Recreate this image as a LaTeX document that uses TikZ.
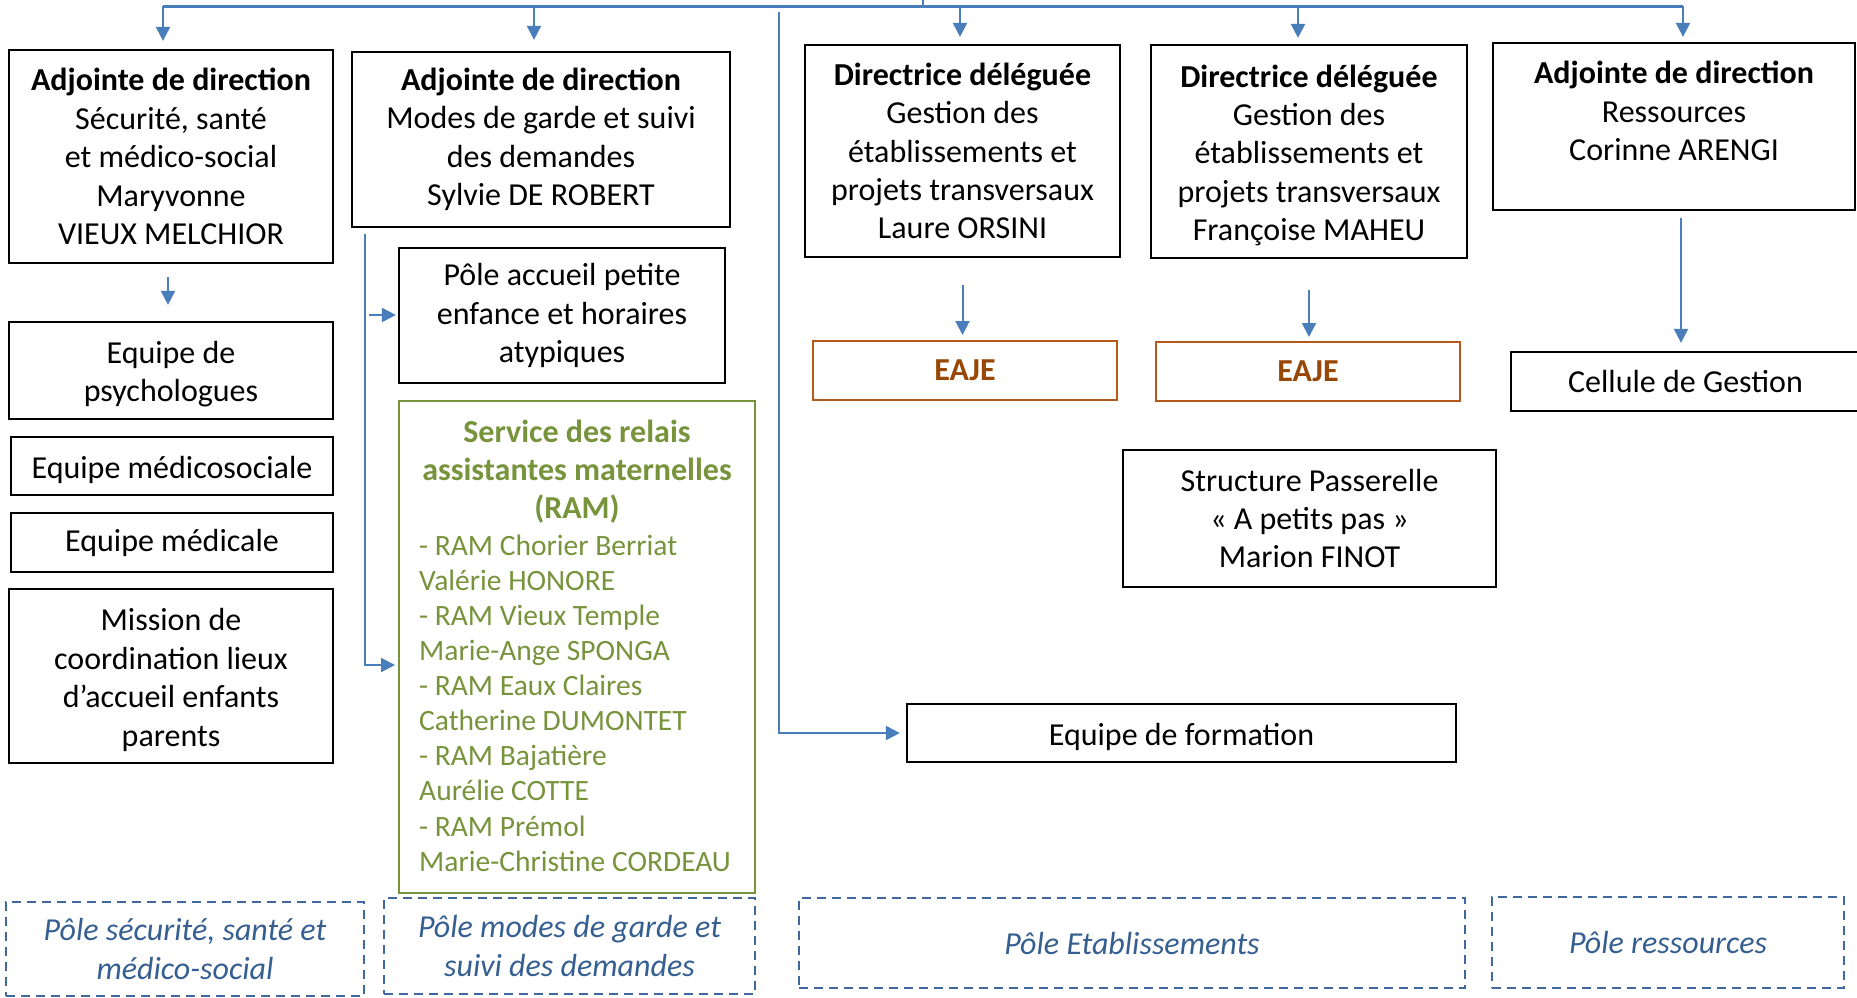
\documentclass[tikz,border=0pt]{standalone}
\usepackage{fontspec}
\setmainfont{Carlito}
\usetikzlibrary{arrows.meta}
\definecolor{arrblue}{HTML}{4A7EBB}
\definecolor{dashblue}{HTML}{41689E}
\definecolor{poleblue}{HTML}{365F91}
\definecolor{ramgreen}{HTML}{77933C}
\definecolor{eajebrown}{HTML}{984806}
\definecolor{eajeline}{HTML}{B35A1A}
\newcommand\mfs{\fontsize{32}{38.4}\selectfont}
\newcommand\lowr{\rule{0pt}{30pt}}
\begin{document}
\begin{tikzpicture}[x=1pt,y=-1pt,
 box/.style={draw=black,line width=2.2pt,align=center,inner sep=0pt,font=\mfs},
 eaje/.style={draw=eajeline,line width=2pt,align=center,inner sep=0pt,font=\mfs\bfseries,text=eajebrown},
 pole/.style={draw=dashblue,line width=2pt,dash pattern=on 9pt off 6pt,align=center,inner sep=0pt,font=\mfs\itshape,text=poleblue},
 rambox/.style={draw=ramgreen,line width=2pt,inner sep=0pt},
 ramtitle/.style={align=center,inner sep=0pt,text=ramgreen,font=\fontsize{32}{38}\selectfont\bfseries},
 ramlist/.style={align=left,inner sep=0pt,text=ramgreen,font=\fontsize{29.5}{35.1}\selectfont},
 conn/.style={draw=arrblue,line width=2pt},
 arr/.style={conn,-{Triangle[width=14pt,length=14pt]}},
]
\useasboundingbox (0,0) rectangle (1857,997);

% top row
\node[box,minimum width=324pt,minimum height=213pt] (b1) at (171,156.5)
 {\textbf{Adjointe de direction}\\Sécurité, santé\\et médico-social\\Maryvonne\\VIEUX MELCHIOR};
\node[box,minimum width=378pt,minimum height=175pt] (b2) at (541,139.5)
 {\textbf{Adjointe de direction}\\Modes de garde et suivi\\des demandes\\Sylvie DE ROBERT};
\node[box,minimum width=315pt,minimum height=212pt] (b3) at (962.5,151)
 {\textbf{Directrice déléguée}\\Gestion des\\établissements et\\projets transversaux\\Laure ORSINI};
\node[box,minimum width=316pt,minimum height=213pt] (b4) at (1309,151.5)
 {\lowr\textbf{Directrice déléguée}\\Gestion des\\établissements et\\projets transversaux\\Françoise MAHEU};
\node[box,minimum width=362pt,minimum height=167pt] (b5) at (1674,126.5)
 {\textbf{Adjointe de direction}\\Ressources\\Corinne ARENGI\rule[-31pt]{0pt}{31pt}};

% column 1
\node[box,minimum width=324pt,minimum height=97pt] (psych) at (171,370.5) {\lowr Equipe de\\psychologues};
\node[box,minimum width=322pt,minimum height=58pt] (medsoc) at (172,466) {\lowr Equipe médicosociale};
\node[box,minimum width=322pt,minimum height=59pt] (medic) at (172,542.5) {Equipe médicale};
\node[box,minimum width=324pt,minimum height=174pt] (mission) at (171,676)
 {\lowr Mission de\\coordination lieux\\d’accueil enfants\\parents};

% column 2
\node[box,minimum width=326pt,minimum height=135pt] (accueil) at (562,315.5)
 {Pôle accueil petite\\enfance et horaires\\atypiques};
\node[rambox,minimum width=356pt,minimum height=492pt] (ram) at (577,647) {};
\node[ramtitle] (ramt) at (577,471.5) {Service des relais\\assistantes maternelles\\(RAM)};
\node[ramlist,anchor=west] (raml) at (419,703)
 {- RAM Chorier Berriat\\Valérie HONORE\\- RAM Vieux Temple\\Marie-Ange SPONGA\\- RAM Eaux Claires\\Catherine DUMONTET\\- RAM Bajatière\\Aurélie COTTE\\- RAM Prémol\\Marie-Christine CORDEAU};

% columns 3-5
\node[eaje,minimum width=304pt,minimum height=59pt] (eaje1) at (965,370.5) {EAJE};
\node[eaje,minimum width=304pt,minimum height=59pt] (eaje2) at (1308,371.5) {EAJE};
\node[box,minimum width=349pt,minimum height=59pt] (cellule) at (1685.5,381.5) {Cellule de Gestion};
\node[box,minimum width=373pt,minimum height=137pt] (passerelle) at (1309.5,518.5)
 {Structure Passerelle\\« A petits pas »\\Marion FINOT};
\node[box,minimum width=549pt,minimum height=58pt] (formation) at (1181.5,733) {\lowr Equipe de formation};

% poles
\node[pole,minimum width=358pt,minimum height=94pt] (p1) at (185,949) {Pôle sécurité, santé et\\médico-social};
\node[pole,minimum width=371pt,minimum height=96pt] (p2) at (569.5,946) {Pôle modes de garde et\\suivi des demandes};
\node[pole,minimum width=666pt,minimum height=90pt] (p3) at (1132,943) {Pôle Etablissements};
\node[pole,minimum width=352pt,minimum height=91pt] (p4) at (1668,942.5) {Pôle ressources};

% connectors
\coordinate (t1) at (163,6);
\coordinate (t2) at (534,6);
\coordinate (t3) at (960,6);
\coordinate (t4) at (1298,6);
\coordinate (t5) at (1683,6);
\coordinate (tin) at (923,0);
\draw[conn,line width=3pt] (t1) -- (t5);
\draw[conn] (tin) -- (tin |- t1);
\draw[arr,shorten >=8pt] (t1) -- (t1 |- b1.north);
\draw[arr,shorten >=11pt] (t2) -- (t2 |- b2.north);
\draw[arr,shorten >=7pt] (t3) -- (t3 |- b3.north);
\draw[arr,shorten >=6pt] (t4) -- (t4 |- b4.north);
\draw[arr,shorten >=5pt] (t5) -- (t5 |- b5.north);

\draw[arr,shorten <=13pt,shorten >=16pt] ([xshift=-3pt]b1.south) -- ([xshift=-3pt]psych.north);

\coordinate (v2) at (365,234);
\coordinate (v2b) at (369,315);
\draw[arr,shorten >=3pt] (v2) |- ([yshift=-18pt]ram.west);
\draw[arr,shorten >=2pt] (v2b) -- (v2b -| accueil.west);

\coordinate (v3) at (779,12);
\draw[arr,shorten >=6pt] (v3) |- (formation.west);

\draw[arr,shorten <=27pt,shorten >=5pt] (b3.south) -- (b3.south |- eaje1.north);
\draw[arr,shorten <=31pt,shorten >=4pt] (b4.south) -- (b4.south |- eaje2.north);
\draw[arr,shorten <=7pt,shorten >=8pt] ([xshift=7pt]b5.south) -- ([xshift=7pt]b5.south |- cellule.north);
\end{tikzpicture}
\end{document}
